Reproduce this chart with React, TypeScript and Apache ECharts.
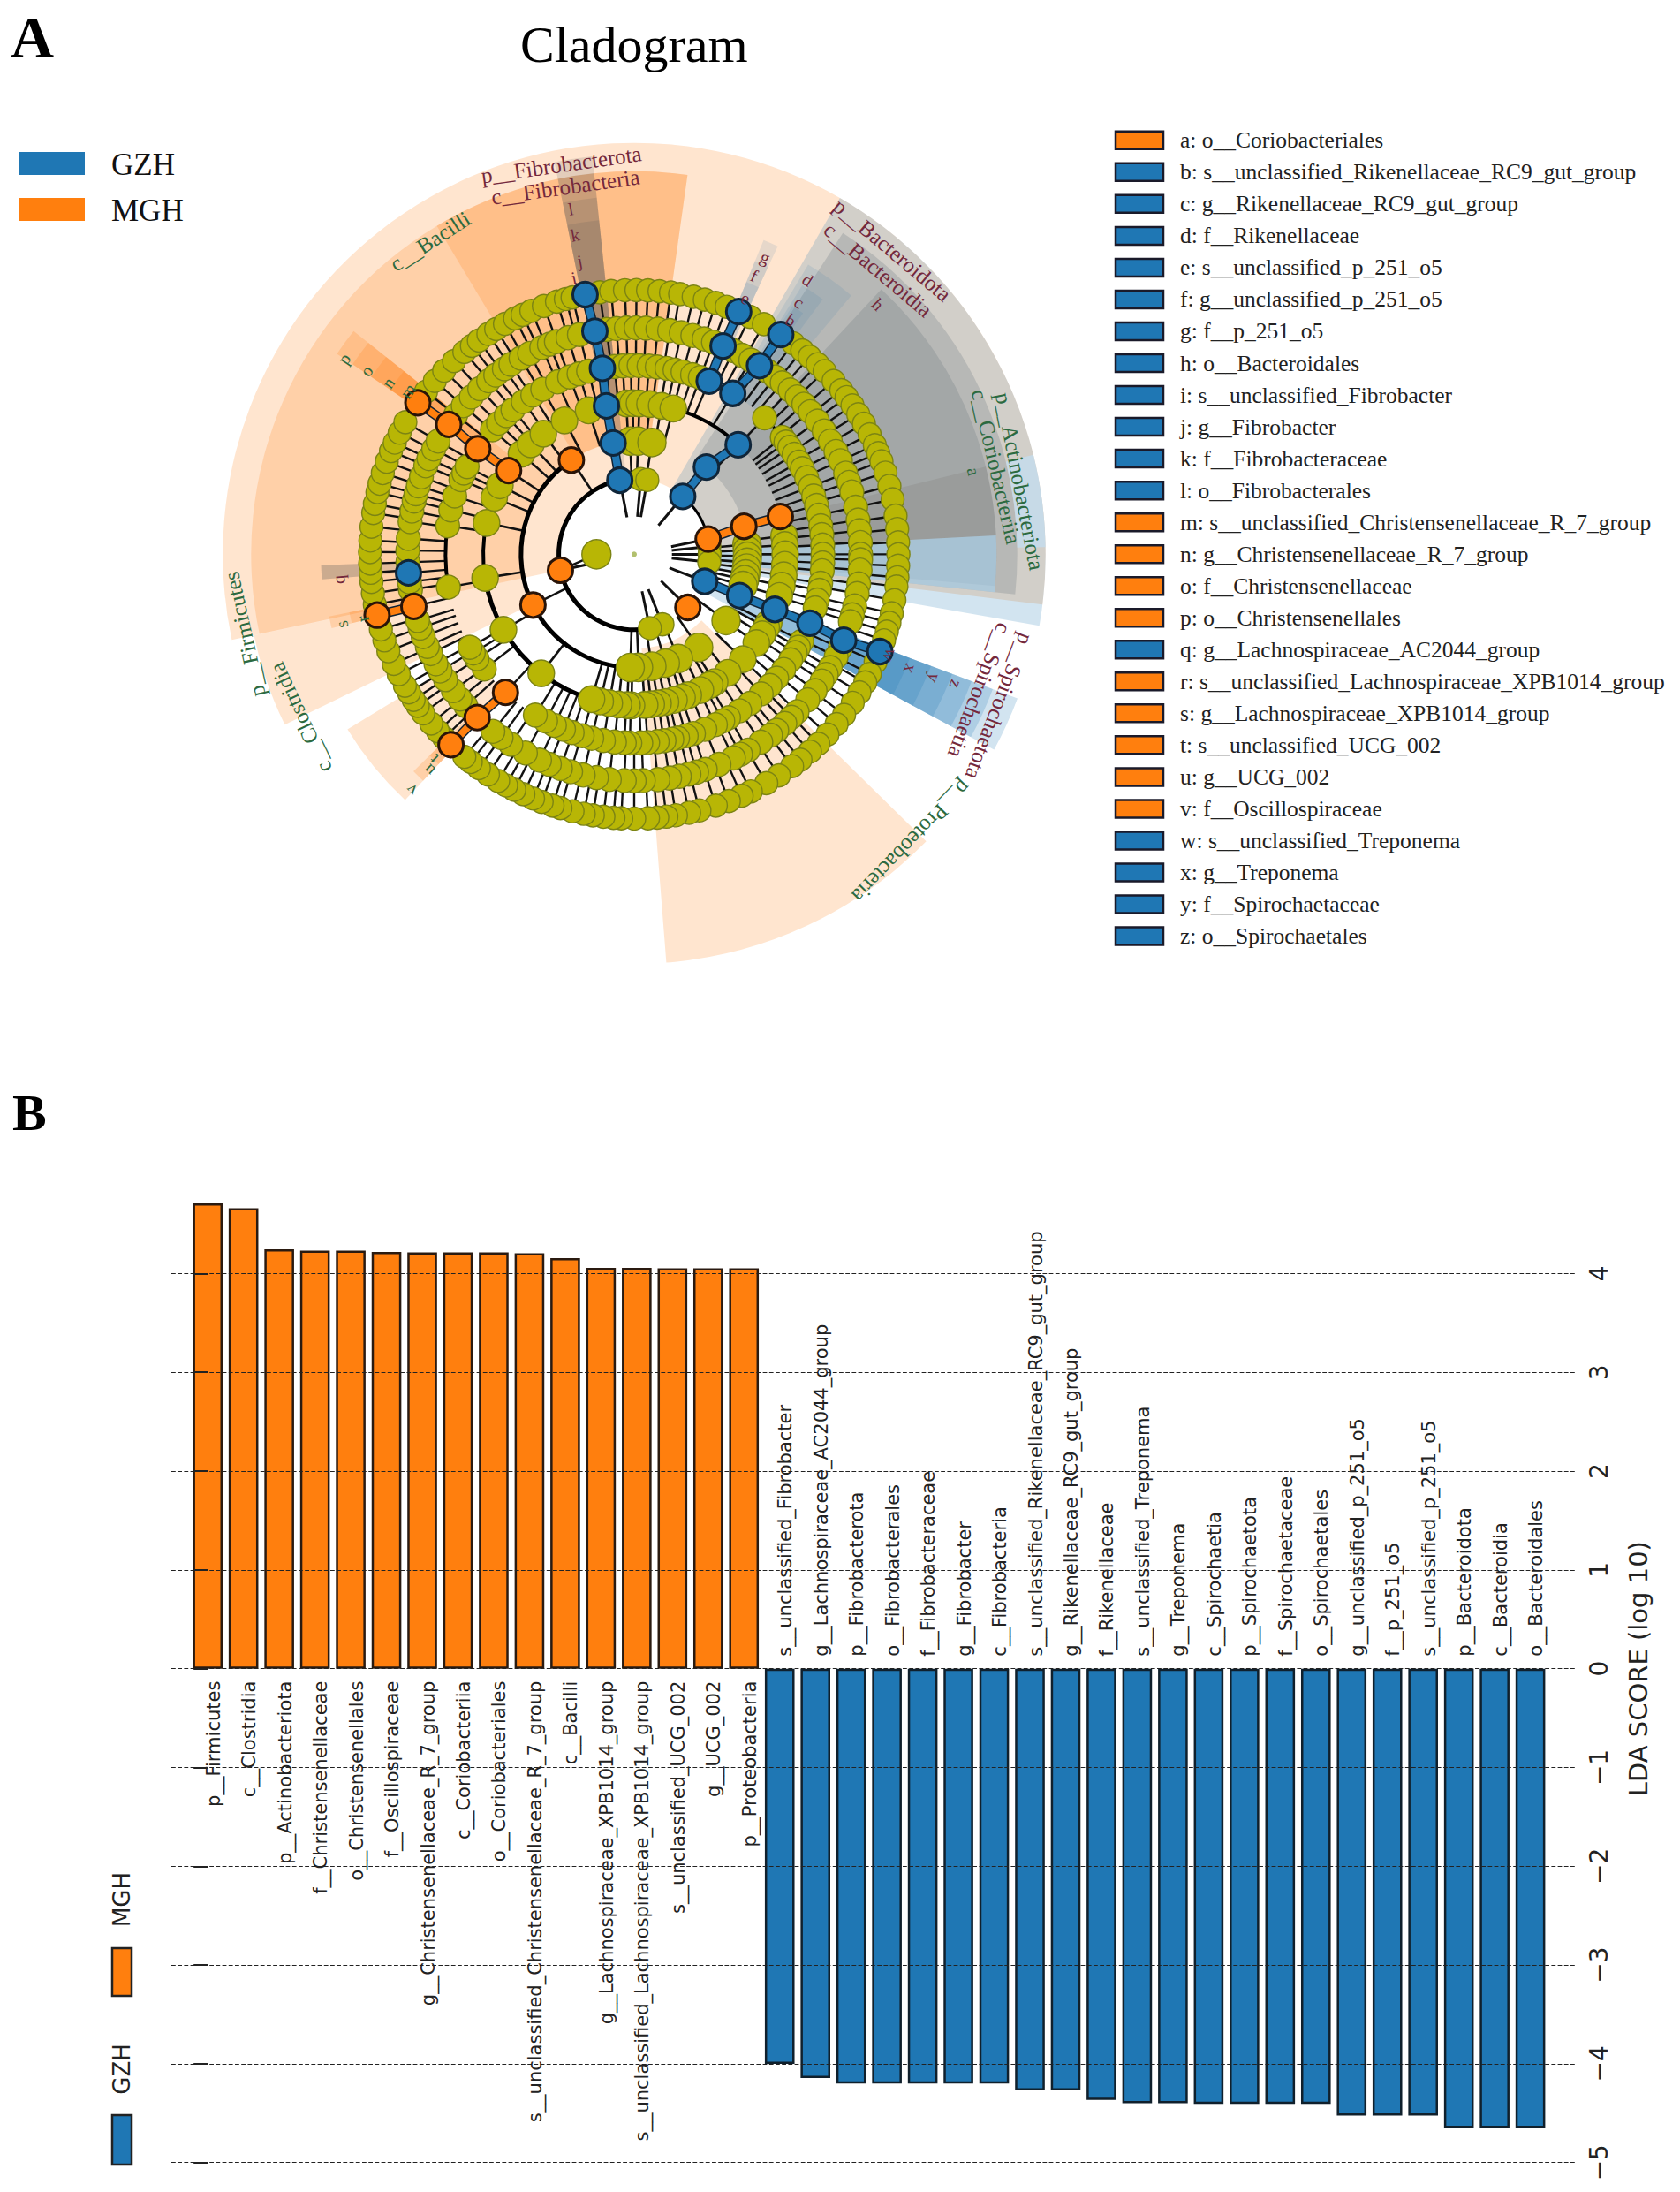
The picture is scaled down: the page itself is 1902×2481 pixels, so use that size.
import React, { useEffect, useRef } from "react";
import * as echarts from "echarts";

// ---------- Panel B data ----------
const mghNames = ["p__Firmicutes","c__Clostridia","p__Actinobacteriota","f__Christensenellaceae","o__Christensenellales","f__Oscillospiraceae","g__Christensenellaceae_R_7_group","c__Coriobacteriia","o__Coriobacteriales","s__unclassified_Christensenellaceae_R_7_group","c__Bacilli","g__Lachnospiraceae_XPB1014_group","s__unclassified_Lachnospiraceae_XPB1014_group","s__unclassified_UCG_002","g__UCG_002","p__Proteobacteria"];
const mghValues = [4.71,4.66,4.245,4.232,4.232,4.219,4.213,4.213,4.213,4.206,4.155,4.058,4.058,4.052,4.052,4.052];
const gzhNames = ["s__unclassified_Fibrobacter","g__Lachnospiraceae_AC2044_group","p__Fibrobacterota","o__Fibrobacterales","f__Fibrobacteraceae","g__Fibrobacter","c__Fibrobacteria","s__unclassified_Rikenellaceae_RC9_gut_group","g__Rikenellaceae_RC9_gut_group","f__Rikenellaceae","s__unclassified_Treponema","g__Treponema","c__Spirochaetia","p__Spirochaetota","f__Spirochaetaceae","o__Spirochaetales","g__unclassified_p_251_o5","f__p_251_o5","s__unclassified_p_251_o5","p__Bacteroidota","c__Bacteroidia","o__Bacteroidales"];
const gzhValues = [-4.0,-4.145,-4.2,-4.2,-4.2,-4.2,-4.2,-4.27,-4.27,-4.365,-4.4,-4.4,-4.405,-4.405,-4.405,-4.405,-4.525,-4.525,-4.525,-4.65,-4.65,-4.65];
const yTicks = [-5,-4,-3,-2,-1,0,1,2,3,4];

// ---------- Panel A legend ----------
const cladeLegend: [string, string][] = [
  ["a: o__Coriobacteriales","o"],["b: s__unclassified_Rikenellaceae_RC9_gut_group","b"],["c: g__Rikenellaceae_RC9_gut_group","b"],["d: f__Rikenellaceae","b"],["e: s__unclassified_p_251_o5","b"],["f: g__unclassified_p_251_o5","b"],["g: f__p_251_o5","b"],["h: o__Bacteroidales","b"],["i: s__unclassified_Fibrobacter","b"],["j: g__Fibrobacter","b"],["k: f__Fibrobacteraceae","b"],["l: o__Fibrobacterales","b"],["m: s__unclassified_Christensenellaceae_R_7_group","o"],["n: g__Christensenellaceae_R_7_group","o"],["o: f__Christensenellaceae","o"],["p: o__Christensenellales","o"],["q: g__Lachnospiraceae_AC2044_group","b"],["r: s__unclassified_Lachnospiraceae_XPB1014_group","o"],["s: g__Lachnospiraceae_XPB1014_group","o"],["t: s__unclassified_UCG_002","o"],["u: g__UCG_002","o"],["v: f__Oscillospiraceae","o"],["w: s__unclassified_Treponema","b"],["x: g__Treponema","b"],["y: f__Spirochaetaceae","b"],["z: o__Spirochaetales","b"],
];

// ---------- Panel A cladogram: node bearings (deg clockwise from top), by ring level ----------
const level1 = [270];
const level2 = [5,10,84,90,96,158,168];
const level3 = [358,2,9,85,88,91,94,97,100,103,106,125.8,145.3,157,164,171,177.8,182];
const level4 = [357,359.5,2,6,10.5,15,83,86.5,90,94,98,102,106,117,119,122,126,134,141.7,147.8,150,154,159,161.5,164.7,168,170.9,173.5,176,181,182.7,186,189.5,193,196.4,218,240,261,282,292,297.2,311.7,316.8,323,332.5,342.4];
const level5 = [354,356.5,359,1.5,4.5,7,10,12.5,15,18,20.5,43.7,51.7,53.5,55.5,58,60.8,63,66,69,72,75,78,81.3,84,87.2,90,92.6,95,98.8,101,104,106.5,117.4,119.5,121.4,124,127.6,131,134,137.7,142.2,146,150,152,154.5,158,161.7,164,166.7,168.5,170.9,173,175.9,178,181.3,183,186,189.4,193,196,199.2,202,205,208,211.6,232.6,236.4,238.5,240.5,260,278.7,283.6,288,293.3,295.5,297.7,311.3,314,317.3,320,324,327.5,331,336,340,343,346];
const level6 = [353,355.5,358,0.5,3,6,9,12,15,18,20.5,26,28.5,31,36,38.5,40.8,43.5,46,48.5,51,54,57,60,63,65.6,69,71.5,74,78,81.3,84,87,90,91.4,94,97.5,100,103.2,105.5,107.3,114.5,116.9,120,122,124,127,130,134,136,138.3,141,143,146,149.8,152,154,158,161.7,164,166,168.5,171,174,177.7,180,182.5,186.3,189.6,193,196.3,199,202,204.7,208.7,213,216,218.6,228,230.3,233,236.4,239,241.1,244,246,248.7,251,253,261,263,268,271,274,278.3,281,283.6,285.5,287.6,290,293,295,297.7,300,308,311,314,317,320,322.3,325,327,330,332.5,335.9,338,339.9,343,346];
const level7 = [352.5,355,358,0.5,3,5.5,8,10,13,15.5,18,20.5,26,29.4,37,39.5,41.6,44,46.1,49,51.6,53.5,55.7,58,60.4,63,65.6,67.5,69.4,72,75,78,81.6,84.5,87.4,90,92.5,95,97,100,102.9,105,107,109,114,116.9,119,121.5,124.2,127.4,130,133,135.8,138.3,141,143.3,146.8,150,153.8,156,159,162,165.7,168,170.9,173,175,177,180,182.8,184.5,186.7,189,191,193.5,196.2,198,200.5,202.5,204.8,207,209,211,213.6,216,218.2,220,226,228,230.2,233,235,236.6,238.5,240.2,243,245.5,248.5,251,253.5,259,261.5,264,266,268,270.5,273,276,279,281,283.6,285.5,287.9,290.5,293,295,297.4,300,308,311,314,317,320,322.1,324,326.5,328.5,330.7,333.2,335,337.1,340,343,345,346.5];
const oliveLevels: [number, number[]][] = [[1,level1],[2,level2],[3,level3],[4,level4],[5,level5],[6,level6],[7,level7]];

const blueNodes: [number, number][] = [[2,349],[3,349.3],[4,349.4],[5,350.3],[6,350],[7,349.3],[2,40],[3,39.6],[4,43.5],[5,31.5],[5,23.4],[6,33.6],[6,23.1],[7,33.7],[7,23.3],[2,111],[3,111.4],[4,111.4],[5,111.4],[6,112.3],[7,111.6],[6,265.3]];
const orangeNodes: [number, number][] = [[2,78.3],[3,75.7],[4,75.5],[2,134.7],[2,257.8],[3,243.4],[3,326.3],[5,223],[6,223.9],[7,223.9],[4,303.7],[5,304],[6,305],[7,305],[6,256.7],[7,256.7]];
const blueChains: [number, number][][] = [[[2,349],[3,349.3],[4,349.4],[5,350.3],[6,350],[7,349.3]],[[2,40],[3,39.6],[4,43.5]],[[5,23.4],[6,23.1],[7,23.3]],[[5,31.5],[6,33.6],[7,33.7]],[[2,111],[3,111.4],[4,111.4],[5,111.4],[6,112.3],[7,111.6]]];
const orangeChains: [number, number][][] = [[[2,78.3],[3,75.7],[4,75.5]],[[4,303.7],[5,304],[6,305],[7,305]],[[5,223],[6,223.9],[7,223.9]],[[6,256.7],[7,256.7]]];
// level, from bearing, to bearing, weight
const ringArcs: number[][] = [[2,165,349,5],[2,40,78,3],[3,182,243,5],[3,243,326,5],[4,196,240,5],[4,240,261,5],[4,261,282,4],[5,260,279,4],[4,15,43.5,4],[5,43.7,51.7,3]];
// from bearing, to bearing, inner level, outer level, fill
const P = "rgba(255,127,14,0.2)";
const B = "rgba(31,119,180,0.2)";
const LB = "rgba(60,120,170,0.13)";
const G = "rgba(100,112,122,0.24)";
const GB = "rgba(90,88,88,0.17)";
const A = "rgba(125,118,112,0.22)";
const sectors: [number, number, number, number, string][] = [
  [258,390,2,10.9,P],
  [244,258,3,10.3,P],
  [258,329,3,10.15,P],
  [329,368,3,10.15,P],[329,368,3,10.15,P],
  [223,238.6,5,8.9,P],[223,225.5,6,8.2,P],[223,225.5,7,7.6,P],
  [134.5,175.5,2.5,10.85,P],
  [30,97,2,10.9,P],[30,100,2,10.9,B],
  [33,96,3,10.15,G],
  [43,95,4,9.6,G],
  [76,87,4,9.6,A],
  [87,96,2,9.6,"rgba(170,212,240,0.6)"],
  [76,89,10.15,10.9,"rgba(195,222,240,0.75)"],
  [348.5,354,2,10.6,GB],[348.5,354,3,10.15,GB],[348.5,354,4,9.5,GB],[348.5,354,5,8.9,GB],
  [22.4,25,5,9,LB],[22.4,25,6,8.4,LB],[22.4,25,7,7.8,LB],
  [31,40,5,8.95,LB],[32,36.5,6,8.4,LB],[32.5,35,7,7.8,LB],
  [304,308.5,4,9.5,P],[304,308.5,5,9,P],[304,308.5,6,8.4,P],[304,308.5,7,7.8,P],
  [265.4,268,6,8.3,GB],[265.4,268,7,8.3,GB],
  [256.3,258.5,6,8.25,P],[256.3,258.5,7,7.7,P],
  [110.6,118.5,2,10.85,B],[110.6,118.5,3,10.15,B],[110.6,118.5,4,9.55,B],[110.6,118.5,5,9,B],[110.6,118.5,6,8.4,B],[110.6,118.5,7,7.8,B],
];
const MAROON = "#74283c";
const GREEN = "#2c6a40";
// text, level radius, bearing, rotation, colour
const cladeLabels: [string, number, number, number, string][] = [
  ["p__Fibrobacterota",10.5,349.4,8,MAROON],["c__Fibrobacteria",9.9,349.4,8,MAROON],["c__Bacilli",9.9,326.9,33,GREEN],
  ["p__Bacteroidota",10.57,40.3,-40,MAROON],["c__Bacteroidia",9.93,40.6,-40,MAROON],
  ["p__Actinobacteriota",10.4,79.3,-79,GREEN],["c__Coriobacteriia",9.87,76.4,-77,GREEN],
  ["p__Spirochaetota",10.48,112.6,-111,MAROON],["c__Spirochaetia",9.84,111.5,-111,MAROON],
  ["p__Proteobacteria",10.58,136,-134,GREEN],["p__Firmicutes",10.54,258.4,102.5,GREEN],["c__Clostridia",9.84,243.9,115,GREEN],
];
const cladeLetters: [string, number, number, string][] = [
  ["a",9.26,76.3,GREEN],["b",7.46,33.8,MAROON],["c",7.98,33.2,MAROON],["d",8.6,32.3,MAROON],["e",7.4,23.5,MAROON],["f",8.04,23.3,MAROON],["g",8.6,23.8,MAROON],["h",9.25,44.3,MAROON],["i",7.5,347.7,MAROON],["j",7.9,349.5,MAROON],["k",8.6,349.5,MAROON],["l",9.3,349.6,MAROON],["m",7.4,305.8,GREEN],["n",7.95,304.9,GREEN],["o",8.6,304.4,GREEN],["p",9.27,304,GREEN],["q",7.86,265.1,MAROON],["r",7.4,256.6,GREEN],["s",7.97,256.5,GREEN],["t",7.6,224.4,GREEN],["u",7.9,223.5,GREEN],["v",8.6,223.4,GREEN],["w",7.3,111.5,MAROON],["x",7.93,112.5,MAROON],["y",8.6,112.4,MAROON],["z",9.2,112,MAROON],
];

const BLUE = "#1f77b4";
const ORANGE = "#ff7f0e";
const OLIVE = "#b8b605";
const OLIVE_EDGE = "#7c8414";
const SERIF = '"Liberation Serif", serif';
const SANS = '"DejaVu Sans", sans-serif';
const oliveSize: Record<number, number> = { 1: 33, 2: 26, 3: 32, 4: 30, 5: 27, 6: 27, 7: 26 };
const spokeWidth: Record<number, number> = { 2: 3, 3: 2.6, 4: 2.6, 5: 2.4, 6: 2.4, 7: 2.4 };

function rad(api: any, level: number) {
  const c = api.coord([0, 0]);
  const p = api.coord([level, 0]);
  return { cx: c[0], cy: c[1], r: Math.hypot(p[0] - c[0], p[1] - c[1]) };
}
const toAngle = (b: number) => ((b - 90) * Math.PI) / 180;

function buildOption() {
  const spokes: [number, number][] = [];
  oliveLevels.forEach(([k, list]) => { if (k > 1) list.forEach((b) => spokes.push([k, b])); });
  blueNodes.concat(orangeNodes).forEach(([k, b]) => spokes.push([k, b]));

  const polarBase = { coordinateSystem: "polar", polarIndex: 0, silent: true };
  const chain = (list: [number, number][][], color: string, z: number) => ({
    ...polarBase, type: "custom", z,
    data: list.map((c) => c[0]),
    renderItem: (p: any, api: any) => {
      const points = list[p.dataIndex].map((n) => api.coord(n));
      return { type: "group", children: [
        { type: "polyline", shape: { points }, style: { fill: "none", stroke: "#123", lineWidth: 11 } },
        { type: "polyline", shape: { points }, style: { fill: "none", stroke: color, lineWidth: 8 } },
      ] };
    },
  });
  const textStyle = { fontFamily: SERIF, fontSize: 25 };

  const labelSeries = (names: string[], start: number, align: string, anchor: number) => ({
    type: "custom", xAxisIndex: 0, yAxisIndex: 0, z: 8, silent: true,
    data: names.map((_, i) => [start + i, 0]),
    renderItem: (p: any, api: any) => {
      const c = api.coord([start + p.dataIndex, 0]);
      return { type: "text", x: c[0] + 6.5, y: c[1] + anchor, rotation: Math.PI / 2,
        style: { text: names[p.dataIndex], align, verticalAlign: "middle", fontFamily: SANS, fontSize: 21, fill: "#222" } };
    },
  });
  const barBase = { type: "bar", barWidth: 33.6, barGap: "-100%", z: 2, silent: true };

  const graphic: any[] = [
    { type: "text", x: 12, y: 41.5, style: { text: "A", font: `bold 68px ${SERIF}`, fill: "#000", verticalAlign: "middle" } },
    { type: "text", x: 14, y: 1259, style: { text: "B", font: `bold 58px ${SERIF}`, fill: "#000", verticalAlign: "middle" } },
    { type: "text", x: 589, y: 50, style: { text: "Cladogram", font: `58px ${SERIF}`, fill: "#000", verticalAlign: "middle" } },
    { type: "rect", shape: { x: 22, y: 172, width: 74, height: 26 }, style: { fill: BLUE } },
    { type: "rect", shape: { x: 22, y: 224, width: 74, height: 26 }, style: { fill: ORANGE } },
    { type: "text", x: 126, y: 186, style: { text: "GZH", font: `35px ${SERIF}`, fill: "#111", verticalAlign: "middle" } },
    { type: "text", x: 126, y: 238, style: { text: "MGH", font: `35px ${SERIF}`, fill: "#111", verticalAlign: "middle" } },
    { type: "rect", shape: { x: 127, y: 2205, width: 22, height: 54 }, style: { fill: ORANGE, stroke: "#222", lineWidth: 2.5 } },
    { type: "rect", shape: { x: 127, y: 2394, width: 22, height: 56 }, style: { fill: BLUE, stroke: "#222", lineWidth: 2.5 } },
    { type: "text", x: 137.5, y: 2150, rotation: Math.PI / 2, style: { text: "MGH", font: `26px ${SANS}`, fill: "#222", align: "center", verticalAlign: "middle" } },
    { type: "text", x: 137.5, y: 2342, rotation: Math.PI / 2, style: { text: "GZH", font: `26px ${SANS}`, fill: "#222", align: "center", verticalAlign: "middle" } },
  ];
  cladeLegend.forEach(([text, c], i) => {
    const y = 158.8 + i * 36.03;
    graphic.push({ type: "rect", shape: { x: 1263, y: y - 10, width: 54, height: 20 }, style: { fill: c === "o" ? ORANGE : BLUE, stroke: "#1a1a2a", lineWidth: 2.5 } });
    graphic.push({ type: "text", x: 1336, y, style: { text, font: `25.5px ${SERIF}`, fill: "#222", verticalAlign: "middle" } });
  });

  return {
    animation: false,
    backgroundColor: "#fff",
    polar: { center: [718, 627.4], radius: [0, 480] },
    angleAxis: { type: "value", min: 0, max: 360, startAngle: 90, clockwise: true, show: false },
    radiusAxis: { type: "value", min: 0, max: 480 / 42.73, show: false },
    grid: { left: 194, width: 1590, top: 1329.6, height: 1118.1 },
    xAxis: { type: "value", min: -1.018, max: 38.27, show: false },
    yAxis: {
      type: "value", position: "right", min: -5, max: 5, interval: 1, z: 5,
      name: "LDA SCORE (log 10)", nameLocation: "middle", nameRotate: 90, nameGap: 56,
      nameTextStyle: { fontFamily: SANS, fontSize: 29, color: "#222" },
      axisLine: { show: false },
      axisTick: { show: true, inside: true, length: 16, customValues: yTicks, lineStyle: { color: "#222", width: 2 } },
      axisLabel: { rotate: 90, margin: 12, fontFamily: SANS, fontSize: 28, color: "#222", customValues: yTicks,
        formatter: (v: number) => (v < 0 ? "\u2212" + -v : String(v)) },
      splitLine: { show: true, lineStyle: { type: "dashed", color: "#222", width: 1.2 } },
    },
    graphic,
    series: [
      { ...polarBase, type: "custom", z: 1,
        data: sectors.map((s) => [s[3], s[0] % 360]),
        renderItem: (p: any, api: any) => {
          const s = sectors[p.dataIndex];
          const o = rad(api, s[3]);
          return { type: "sector", shape: { cx: o.cx, cy: o.cy, r: o.r, r0: rad(api, s[2]).r, startAngle: toAngle(s[0]), endAngle: toAngle(s[1]), clockwise: true }, style: { fill: s[4] } };
        } },
      { ...polarBase, type: "custom", z: 2,
        data: spokes,
        renderItem: (p: any, api: any) => {
          const [k, b] = spokes[p.dataIndex];
          const a = api.coord([k - 1, b]);
          const e = api.coord([k, b]);
          return { type: "line", shape: { x1: a[0], y1: a[1], x2: e[0], y2: e[1] }, style: { stroke: "#111", lineWidth: spokeWidth[k] } };
        } },
      { ...polarBase, type: "custom", z: 2,
        data: ringArcs.map((a) => [a[0], a[1]]),
        renderItem: (p: any, api: any) => {
          const a = ringArcs[p.dataIndex];
          const o = rad(api, a[0]);
          return { type: "arc", shape: { cx: o.cx, cy: o.cy, r: o.r, startAngle: toAngle(a[1]), endAngle: toAngle(a[2]), clockwise: true }, style: { fill: "none", stroke: "#000", lineWidth: a[3] } };
        } },
      { ...polarBase, type: "custom", z: 2,
        data: [[1, 270]],
        renderItem: (_p: any, api: any) => {
          const a = api.coord([1, 270]);
          const e = api.coord([2, 257.8]);
          return { type: "line", shape: { x1: a[0], y1: a[1], x2: e[0], y2: e[1] }, style: { stroke: "#111", lineWidth: 2.5 } };
        } },
      chain(blueChains, BLUE, 3),
      chain(orangeChains, ORANGE, 3),
      { ...polarBase, type: "scatter", z: 4, symbolSize: 6, data: [[0, 0]], itemStyle: { color: "#9fb04a" } },
      ...oliveLevels.map(([k, list]) => ({ ...polarBase, type: "scatter", z: 4, symbolSize: oliveSize[k],
        data: list.map((b) => [k, b]), itemStyle: { color: OLIVE, opacity: 1, borderColor: OLIVE_EDGE, borderWidth: 1.4 } })),
      { ...polarBase, type: "scatter", z: 5, symbolSize: 28, data: blueNodes, itemStyle: { color: BLUE, opacity: 1, borderColor: "#10263a", borderWidth: 3 } },
      { ...polarBase, type: "scatter", z: 5, symbolSize: 28, data: orangeNodes, itemStyle: { color: ORANGE, opacity: 1, borderColor: "#2a1408", borderWidth: 3 } },
      { ...polarBase, type: "custom", z: 6,
        data: cladeLabels.map((l) => [l[1], l[2]]),
        renderItem: (p: any, api: any) => {
          const l = cladeLabels[p.dataIndex];
          const c = api.coord([l[1], l[2]]);
          return { type: "text", x: c[0], y: c[1], rotation: (l[3] * Math.PI) / 180, style: { text: l[0], align: "center", verticalAlign: "middle", fill: l[4], ...textStyle } };
        } },
      { ...polarBase, type: "custom", z: 6,
        data: cladeLetters.map((l) => [l[1], l[2]]),
        renderItem: (p: any, api: any) => {
          const l = cladeLetters[p.dataIndex];
          const c = api.coord([l[1], l[2]]);
          return { type: "text", x: c[0], y: c[1], rotation: (-l[2] * Math.PI) / 180, style: { text: l[0], align: "center", verticalAlign: "middle", fill: l[3], fontFamily: SERIF, fontSize: 20 } };
        } },
      { ...barBase, name: "MGH", data: mghValues.map((v, i) => [i, v]), itemStyle: { color: ORANGE, borderColor: "#2a1a10", borderWidth: 2.5 } },
      { ...barBase, name: "GZH", data: gzhValues.map((v, i) => [i + mghValues.length, v]), itemStyle: { color: BLUE, borderColor: "#10202c", borderWidth: 2.5 } },
      labelSeries(mghNames, 0, "right", 14),
      labelSeries(gzhNames, mghNames.length, "left", -14),
    ],
  };
}

export default function App() {
  const ref = useRef<HTMLDivElement>(null);
  useEffect(() => {
    const chart = echarts.init(ref.current!, undefined, { renderer: "svg" });
    chart.setOption(buildOption() as any);
    return () => chart.dispose();
  }, []);
  return <div ref={ref} style={{ position: "absolute", left: 0, top: 0, width: 1902, height: 2481 }} />;
}
